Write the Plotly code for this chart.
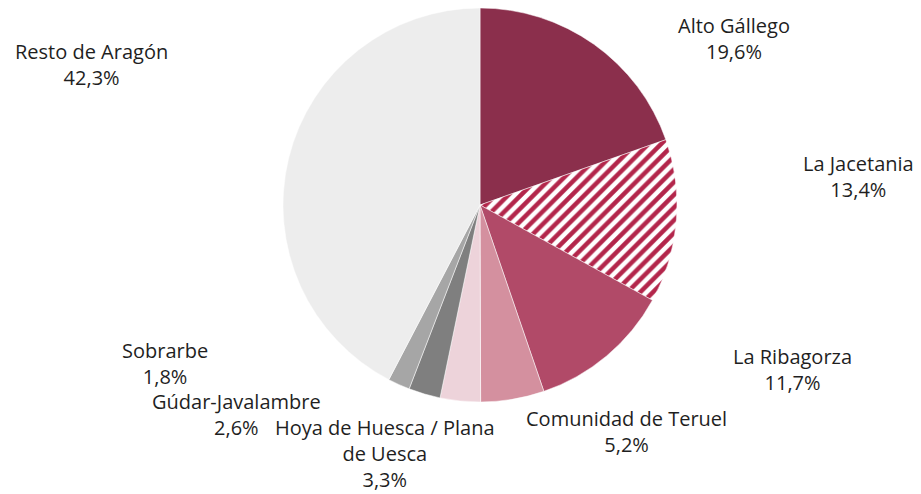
import plotly.graph_objects as go

labels = ["Alto Gállego", "La Jacetania", "La Ribagorza", "Comunidad de Teruel",
          "Hoya de Huesca / Plana de Uesca", "Gúdar-Javalambre", "Sobrarbe", "Resto de Aragón"]
display_labels = ["Alto Gállego", "La Jacetania", "La Ribagorza", "Comunidad de Teruel",
                  "Hoya de Huesca / Plana<br>de Uesca", "Gúdar-Javalambre", "Sobrarbe", "Resto de Aragón"]
values = [19.6, 13.4, 11.7, 5.2, 3.3, 2.6, 1.8, 42.3]

colors = ["#8B2F4C", "#FFFFFF", "#B14A68", "#D4909F", "#EDD3DA", "#7F7F7F", "#A6A6A6", "#EDEDED"]
patterns = ["", "/", "", "", "", "", "", ""]

# label anchor positions (screen pixels from top-left), kept apart from the data
label_pos = [(734, 39), (858, 176), (792, 369), (626, 431),
             (385, 453), (236, 414), (165, 363), (91, 65)]

OFF = 8  # page body margin
W, H = 921 - OFF, 494 - OFF


def fx(px):
    return (px - OFF) / W


def fy(py):
    return 1 - (py - OFF) / H


fig = go.Figure(go.Pie(
    labels=labels,
    values=values,
    customdata=display_labels,
    sort=False,
    direction="clockwise",
    rotation=0,
    textinfo="none",
    hovertemplate="%{customdata}: %{value:.1f}%<extra></extra>",
    marker=dict(
        colors=colors,
        line=dict(color="#FFFFFF", width=0.5),
        pattern=dict(shape=patterns, fgcolor="#B3264B", bgcolor="#FFFFFF",
                     fillmode="overlay", fgopacity=1, size=9, solidity=0.5),
    ),
    domain=dict(x=[fx(283), fx(677)], y=[fy(402), fy(8)]),
    showlegend=False,
))

for name, val, (px, py) in zip(display_labels, values, label_pos):
    fig.add_annotation(
        x=fx(px), y=fy(py), xref="paper", yref="paper",
        text=f"{name}<br>{val:.1f}%".replace(".", ","),
        showarrow=False, xanchor="center", yanchor="middle", align="center",
        font=dict(family="Open Sans, Noto Sans, sans-serif", size=20, color="#1F1F1F"),
    )

fig.update_layout(
    width=W, height=H,
    margin=dict(l=0, r=0, t=0, b=0),
    separators=",.",
    paper_bgcolor="white",
    plot_bgcolor="white",
    font=dict(family="Open Sans, Noto Sans, sans-serif", color="#1F1F1F"),
)

fig.write_html("out.html")
